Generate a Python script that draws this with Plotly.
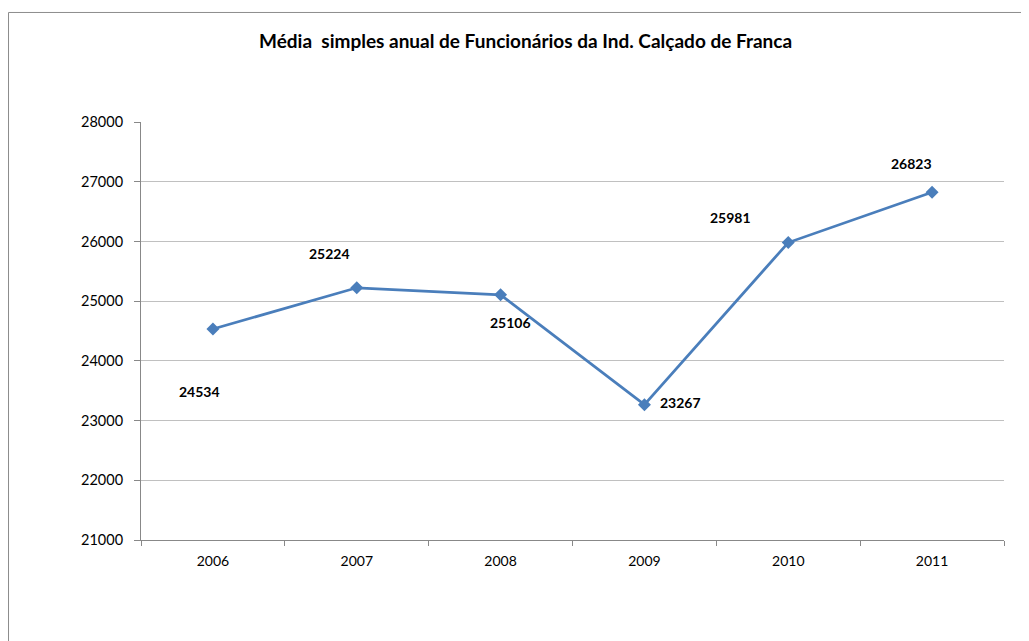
import plotly.graph_objects as go

years = ["2006", "2007", "2008", "2009", "2010", "2011"]
values = [24534, 25224, 25106, 23267, 25981, 26823]
label_dx = [-13, -27, 10, 36, -58, -21]
label_dy = [-63, 34, -28, 2, 25, 29]

title = "Média  simples anual de Funcionários da Ind. Calçado de Franca"
y_ticks = [21000, 22000, 23000, 24000, 25000, 26000, 27000, 28000]

line_color = "#4A7EBB"
font_family = "Lato, 'Noto Sans', sans-serif"

fig = go.Figure()
fig.add_trace(go.Scatter(
    x=years, y=values, mode="lines+markers",
    line=dict(color=line_color, width=2.75),
    marker=dict(symbol="diamond", size=10, color=line_color),
    showlegend=False, hoverinfo="x+y",
))

for i, (v, dx, dy) in enumerate(zip(values, label_dx, label_dy)):
    fig.add_annotation(x=i, y=v, text=f"<b>{v}</b>", showarrow=False,
                       xshift=dx, yshift=dy,
                       font=dict(family=font_family, size=14, color="#000"))

fig.add_annotation(xref="paper", yref="paper", x=0.446, y=1.196, text=f"<b>{title}</b>",
                   showarrow=False, xanchor="center", yanchor="middle",
                   font=dict(family=font_family, size=19, color="#000"))

fig.add_shape(type="rect", xref="paper", yref="paper",
              x0=-0.1535, x1=1.2, y0=-0.5, y1=1.262,
              line=dict(color="#8c8c8c", width=1), fillcolor="rgba(0,0,0,0)", layer="below")

fig.update_layout(
    width=1021, height=633, autosize=False,
    margin=dict(l=133, r=25, t=114, b=101),
    paper_bgcolor="white", plot_bgcolor="white",
    font=dict(family=font_family, size=14, color="#000"),
    xaxis=dict(type="category", range=[-0.5, 5.5], showline=True, linecolor="#888",
               linewidth=1, ticks="outside", tickson="boundaries", ticklen=5,
               tickcolor="#888", showgrid=False, ticklabelstandoff=8,
               tickfont=dict(size=14)),
    yaxis=dict(range=[21000, 28000], tickvals=y_ticks, tickformat="d", showline=True,
               linecolor="#888", linewidth=1, ticks="outside", ticklen=6, tickcolor="#888",
               showgrid=True, gridcolor="#c0c0c0", gridwidth=1, zeroline=False,
               ticklabelstandoff=8, tickfont=dict(size=14.5)),
)

fig.write_html("out.html")
